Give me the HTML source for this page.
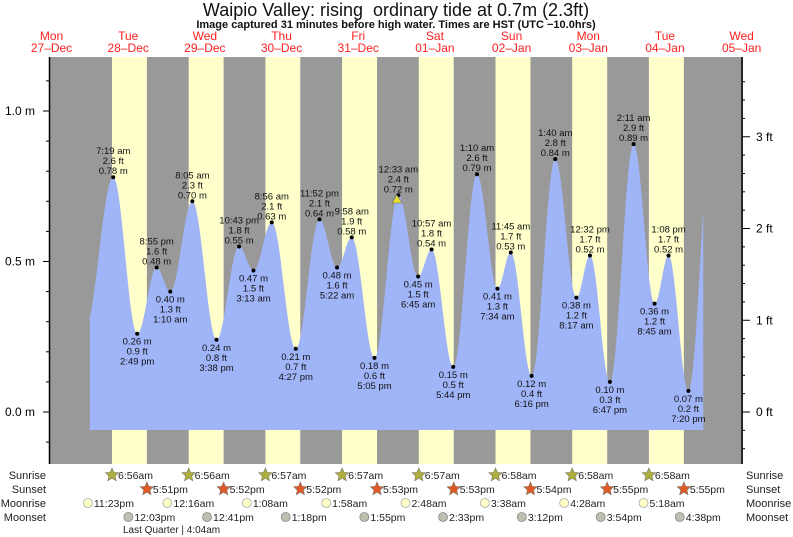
<!DOCTYPE html>
<html><head><meta charset="utf-8"><style>
body{margin:0;background:#fff}
svg{display:block}
text{font-family:"Liberation Sans",sans-serif}
</style></head><body>
<svg id="s" width="793" height="537" xmlns="http://www.w3.org/2000/svg"></svg>
<script>
const s=document.getElementById('s');
let h='';
const X0=89.85,K=3.195;
const px=t=>X0+t*K;
const py=m=>412-m*301;
h+=`<rect x="49" y="57" width="694" height="407" fill="#999"/>`;
const sr=[6.933,6.933,6.95,6.95,6.95,6.967,6.967,6.967];
const ss=[17.85,17.867,17.867,17.883,17.883,17.9,17.917,17.917];
for(let d=0;d<8;d++){const a=px(d*24+sr[d]),b=px(d*24+ss[d]);h+=`<rect x="${a}" y="57" width="${b-a}" height="407" fill="#ffffcc"/>`;}
const E=[[-1.5,0.28,0],
[7.317,0.78,1],[14.817,0.26,0],[20.917,0.48,1],
[24+1.167,0.40,0],[24+8.083,0.70,1],[24+15.633,0.24,0],[24+22.717,0.55,1],
[48+3.217,0.47,0],[48+8.933,0.63,1],[48+16.45,0.21,0],[48+23.867,0.64,1],
[72+5.367,0.48,0],[72+9.967,0.58,1],[72+17.083,0.18,0],
[96+0.55,0.72,1],[96+6.75,0.45,0],[96+10.95,0.54,1],[96+17.733,0.15,0],
[120+1.167,0.79,1],[120+7.567,0.41,0],[120+11.75,0.53,1],[120+18.267,0.12,0],
[144+1.667,0.84,1],[144+8.283,0.38,0],[144+12.533,0.52,1],[144+18.783,0.10,0],
[168+2.183,0.89,1],[168+8.75,0.36,0],[168+13.133,0.52,1],[168+19.333,0.07,0],
[194.7,0.92,1]];
const lab=[null,["7:19 am","2.6 ft","0.78 m"],["0.26 m","0.9 ft","2:49 pm"],["8:55 pm","1.6 ft","0.48 m"],
["0.40 m","1.3 ft","1:10 am"],["8:05 am","2.3 ft","0.70 m"],["0.24 m","0.8 ft","3:38 pm"],["10:43 pm","1.8 ft","0.55 m"],
["0.47 m","1.5 ft","3:13 am"],["8:56 am","2.1 ft","0.63 m"],["0.21 m","0.7 ft","4:27 pm"],["11:52 pm","2.1 ft","0.64 m"],
["0.48 m","1.6 ft","5:22 am"],["9:58 am","1.9 ft","0.58 m"],["0.18 m","0.6 ft","5:05 pm"],
["12:33 am","2.4 ft","0.72 m"],["0.45 m","1.5 ft","6:45 am"],["10:57 am","1.8 ft","0.54 m"],["0.15 m","0.5 ft","5:44 pm"],
["1:10 am","2.6 ft","0.79 m"],["0.41 m","1.3 ft","7:34 am"],["11:45 am","1.7 ft","0.53 m"],["0.12 m","0.4 ft","6:16 pm"],
["1:40 am","2.8 ft","0.84 m"],["0.38 m","1.2 ft","8:17 am"],["12:32 pm","1.7 ft","0.52 m"],["0.10 m","0.3 ft","6:47 pm"],
["2:11 am","2.9 ft","0.89 m"],["0.36 m","1.2 ft","8:45 am"],["1:08 pm","1.7 ft","0.52 m"],["0.07 m","0.2 ft","7:20 pm"],null];
function val(t){for(let i=0;i<E.length-1;i++){if(t>=E[i][0]&&t<=E[i+1][0]){const f=(t-E[i][0])/(E[i+1][0]-E[i][0]);return E[i][1]+(E[i+1][1]-E[i][1])*(1-Math.cos(Math.PI*f))/2;}}return 0.3;}
let d=`M${px(0)} 430`;
for(let t=0;t<=192;t+=0.25)d+=` L${px(t).toFixed(1)} ${py(val(t)).toFixed(1)}`;
d+=` L${px(192)} 430 Z`;
h+=`<path d="${d}" fill="#a0b4f8"/>`;
for(let i=1;i<E.length-1;i++){const x=px(E[i][0]),y=py(E[i][1]),L=lab[i];
h+=`<circle cx="${x}" cy="${y}" r="2" fill="#000"/>`;
const ys=E[i][2]?[y-23,y-13,y-3]:[y+11,y+21,y+31];
for(let j=0;j<3;j++)h+=`<text x="${x}" y="${ys[j]}" font-size="9.5" text-anchor="middle" fill="#111">${L[j]}</text>`;}
h+=`<polygon points="397,195 392,203 402,203" fill="#e8e030" stroke="#666" stroke-width="0.6"/>`;
h+=`<line x1="49.5" y1="57" x2="49.5" y2="464" stroke="#000" stroke-width="1.5"/>`;
h+=`<line x1="742" y1="57" x2="742" y2="464" stroke="#000" stroke-width="1.5"/>`;
for(let m=-0.2;m<=1.2;m+=0.1){const y=py(m);if(y<57||y>464)continue;const big=Math.abs(m*2-Math.round(m*2))<0.01;h+=`<line x1="${big?43:46}" y1="${y}" x2="49" y2="${y}" stroke="#000"/>`;}
[[1.0,"1.0 m"],[0.5,"0.5 m"],[0.0,"0.0 m"]].forEach(a=>h+=`<text x="35" y="${py(a[0])+4}" font-size="12" text-anchor="end">${a[1]}</text>`);
for(let f=-0.6;f<=3.8;f+=0.2){const y=py(f*0.3048);if(y<57||y>464)continue;const big=Math.abs(f-Math.round(f))<0.01;h+=`<line x1="742" y1="${y}" x2="${big?750:745}" y2="${y}" stroke="#000"/>`;}
[0,1,2,3].forEach(f=>h+=`<text x="756" y="${py(f*0.3048)+4}" font-size="12">${f} ft</text>`);
h+=`<text x="396" y="16" font-size="18" text-anchor="middle" fill="#111" xml:space="preserve">Waipio Valley: rising  ordinary tide at 0.7m (2.3ft)</text>`;
h+=`<text x="396" y="28" font-size="11" font-weight="bold" text-anchor="middle" fill="#111">Image captured 31 minutes before high water. Times are HST (UTC −10.0hrs)</text>`;
const dn=["Mon","Tue","Wed","Thu","Fri","Sat","Sun","Mon","Tue","Wed"],dd=["27–Dec","28–Dec","29–Dec","30–Dec","31–Dec","01–Jan","02–Jan","03–Jan","04–Jan","05–Jan"];
for(let i=0;i<10;i++){const x=px((i-1)*24+12);h+=`<text x="${x}" y="40" font-size="12" text-anchor="middle" fill="#ff2020">${dn[i]}</text><text x="${x}" y="52" font-size="12" text-anchor="middle" fill="#ff2020">${dd[i]}</text>`;}
const rows=[["Sunrise",479],["Sunset",493],["Moonrise",507],["Moonset",521]];
rows.forEach(r=>{h+=`<text x="46" y="${r[1]}" font-size="11" text-anchor="end" fill="#222">${r[0]}</text><text x="746" y="${r[1]}" font-size="11" fill="#222">${r[0]}</text>`;});
function star(cx,cy,c){let p=[];for(let k=0;k<10;k++){const a=-Math.PI/2+k*Math.PI/5,r=k%2?3.2:7;p.push((cx+r*Math.cos(a)).toFixed(1)+','+(cy+r*Math.sin(a)).toFixed(1));}return `<polygon points="${p.join(' ')}" fill="${c}" stroke="#776" stroke-width="0.6"/>`;}
const srT=["6:56am","6:56am","6:57am","6:57am","6:57am","6:58am","6:58am","6:58am"],ssT=["5:51pm","5:52pm","5:52pm","5:53pm","5:53pm","5:54pm","5:55pm","5:55pm"];
for(let i=0;i<8;i++){let x=px(i*24+sr[i]);h+=star(x,475,"#b0ae3c")+`<text x="${x+6}" y="479" font-size="10.5" fill="#222">${srT[i]}</text>`;
x=px(i*24+ss[i]);h+=star(x,489,"#e05a28")+`<text x="${x+6}" y="493" font-size="10.5" fill="#222">${ssT[i]}</text>`;}
const mr=[[-0.617,"11:23pm"],[24.267,"12:16am"],[49.133,"1:08am"],[73.967,"1:58am"],[98.8,"2:48am"],[123.633,"3:38am"],[148.467,"4:28am"],[173.3,"5:18am"]];
mr.forEach(a=>{const x=px(a[0]);h+=`<circle cx="${x}" cy="503" r="4.5" fill="#ffffc8" stroke="#aaa" stroke-width="0.8"/><text x="${x+6}" y="507" font-size="10.5" fill="#222">${a[1]}</text>`;});
const ms=[[12.05,"12:03pm"],[36.683,"12:41pm"],[61.3,"1:18pm"],[85.917,"1:55pm"],[110.55,"2:33pm"],[135.2,"3:12pm"],[159.9,"3:54pm"],[184.633,"4:38pm"]];
ms.forEach(a=>{const x=px(a[0]);h+=`<circle cx="${x}" cy="517" r="4.5" fill="#c0c0b0" stroke="#888" stroke-width="0.8"/><text x="${x+6}" y="521" font-size="10.5" fill="#222">${a[1]}</text>`;});
h+=`<text x="123" y="533" font-size="10" fill="#222">Last Quarter | 4:04am</text>`;
s.innerHTML=h;
</script>
</body></html>
